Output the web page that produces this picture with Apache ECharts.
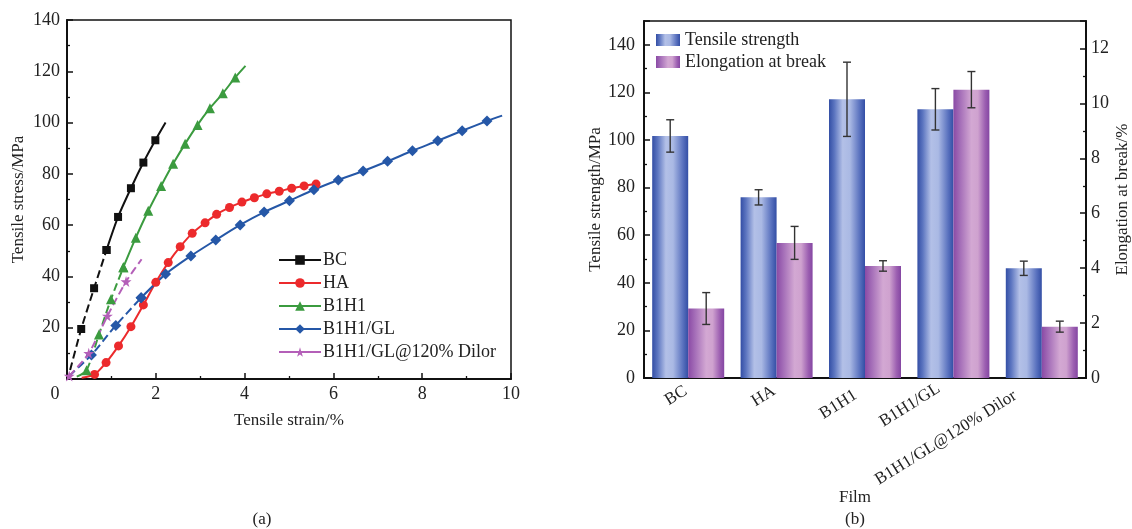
<!DOCTYPE html>
<html>
<head>
<meta charset="utf-8">
<script src="https://cdn.jsdelivr.net/npm/echarts@6/dist/echarts.min.js"></script>
<style>html,body{margin:0;padding:0;background:#fff;}#c{width:1132px;height:529px;}</style>
</head>
<body>
<div id="c"></div>
<script>
// ---- Data: panel (a) stress-strain curves ----
const bcX = [0.07, 0.32, 0.61, 0.89, 1.15, 1.44, 1.72, 1.99, 2.22];
const bcY = [3.5, 19.5, 35.4, 50.3, 63.2, 74.4, 84.4, 93.1, 100];
const haX = [0.33, 0.62, 0.88, 1.16, 1.44, 1.72, 2.0, 2.28, 2.55, 2.82, 3.11, 3.37, 3.66, 3.94, 4.22, 4.5, 4.78, 5.06, 5.34, 5.61];
const haY = [0.5, 1.8, 6.4, 12.9, 20.4, 28.9, 37.7, 45.4, 51.6, 56.8, 60.9, 64.2, 66.9, 69.0, 70.7, 72.2, 73.2, 74.4, 75.3, 76.0];
const b1X = [0.22, 0.44, 0.72, 0.99, 1.27, 1.55, 1.83, 2.12, 2.39, 2.66, 2.94, 3.22, 3.51, 3.79, 4.02];
const b1Y = [0.9, 3.4, 17.4, 31.1, 43.6, 55.1, 65.6, 75.3, 83.9, 91.7, 99.1, 105.6, 111.4, 117.6, 122.1];
const glX = [0.05, 0.55, 1.1, 1.67, 2.22, 2.79, 3.35, 3.9, 4.44, 5.01, 5.56, 6.11, 6.67, 7.22, 7.78, 8.35, 8.9, 9.46, 9.8];
const glY = [1.2, 9.4, 20.9, 31.7, 40.9, 48.0, 54.2, 60.1, 65.1, 69.5, 73.8, 77.6, 81.1, 84.9, 89.0, 92.9, 96.8, 100.6, 102.7];
const diX = [0.05, 0.49, 0.91, 1.33, 1.68];
const diY = [1.2, 10.0, 24.6, 38.0, 46.7];
const strainTicks = [0, 2, 4, 6, 8, 10];
const stressTicks = [20, 40, 60, 80, 100, 120, 140];

// ---- Data: panel (b) bars ----
const films = ['BC', 'HA', 'B1H1', 'B1H1/GL', 'B1H1/GL@120% Dilor'];
const tensileStrength = [101.7, 75.9, 117.1, 112.9, 46.1];
const tensileErr = [6.8, 3.2, 15.6, 8.7, 3.0];
const elongation = [2.53, 4.92, 4.08, 10.5, 1.87];
const elongationErr = [0.58, 0.6, 0.19, 0.66, 0.2];

const FONT = 'Liberation Serif';
const TXT = '#222';

function pts(xs, ys, noFirst, noLast) {
  return xs.map((x, i) => {
    const item = { value: [x, ys[i]] };
    if ((noFirst && i === 0) || (noLast && i === xs.length - 1)) item.symbol = 'none';
    return item;
  });
}
const STAR = 'path://M50,0 L61,35 L98,35 L68,57 L79,91 L50,70 L21,91 L32,57 L2,35 L39,35 Z';

function curve(name, color, symbol, size, data, splitIdx) {
  const base = {
    type: 'line', name, xAxisIndex: 0, yAxisIndex: 0, symbol, symbolSize: size,
    smooth: 0.25, itemStyle: { color }, z: 3
  };
  const out = [];
  if (splitIdx > 0) {
    out.push(Object.assign({}, base, {
      data: data.slice(0, splitIdx + 1),
      lineStyle: { color, width: 2, type: [8, 4] }
    }));
  }
  if (splitIdx < data.length - 1) {
    out.push(Object.assign({}, base, {
      data: data.slice(Math.max(splitIdx, 0)),
      lineStyle: { color, width: 2, type: 'solid' }
    }));
  }
  return out;
}

const series = [].concat(
  curve('BC', '#111111', 'rect', 8, pts(bcX, bcY, true, true), 3),
  curve('HA', '#ec2a2c', 'circle', 9, pts(haX, haY, true, false), 0),
  curve('B1H1', '#3b9b3f', 'triangle', 10, pts(b1X, b1Y, true, true), 4),
  curve('B1H1/GL', '#2557a7', 'diamond', 11, pts(glX, glY, true, true), 3),
  curve('B1H1/GL@120% Dilor', '#b45fb8', STAR, 11, pts(diX, diY, false, true), diX.length - 1)
);

const blueGrad = { type: 'linear', x: 0, y: 0, x2: 1, y2: 0, colorStops: [
  { offset: 0, color: '#334ea5' }, { offset: 0.15, color: '#5c75c0' }, { offset: 0.38, color: '#b3c0e7' },
  { offset: 0.58, color: '#aab9e4' }, { offset: 0.85, color: '#5a72bf' }, { offset: 1, color: '#334ea5' } ] };
const purpleGrad = { type: 'linear', x: 0, y: 0, x2: 1, y2: 0, colorStops: [
  { offset: 0, color: '#8a4aa5' }, { offset: 0.2, color: '#a670b9' }, { offset: 0.5, color: '#d3a8d3' },
  { offset: 0.68, color: '#cfa2cf' }, { offset: 0.88, color: '#9c5fb1' }, { offset: 1, color: '#8446a2' } ] };

series.push({
  type: 'bar', name: 'Tensile strength', xAxisIndex: 1, yAxisIndex: 1,
  data: tensileStrength, barWidth: 36, barGap: '0%', itemStyle: { color: blueGrad }, z: 2
});
series.push({
  type: 'bar', name: 'Elongation at break', xAxisIndex: 1, yAxisIndex: 2,
  data: elongation, barWidth: 36, barGap: '0%', itemStyle: { color: purpleGrad }, z: 2
});

function errSeries(vals, errs, yIdx, dx) {
  return {
    type: 'custom', xAxisIndex: 1, yAxisIndex: yIdx, z: 5, silent: true,
    data: vals.map((v, i) => [i, v, errs[i]]),
    renderItem: function (params, api) {
      const i = api.value(0), v = api.value(1), e = api.value(2);
      const hi = api.coord([i, v + e]);
      const lo = api.coord([i, v - e]);
      const x = hi[0] + dx;
      const st = { stroke: '#333', lineWidth: 1.4 };
      return { type: 'group', children: [
        { type: 'line', shape: { x1: x, y1: hi[1], x2: x, y2: lo[1] }, style: st },
        { type: 'line', shape: { x1: x - 4, y1: hi[1], x2: x + 4, y2: hi[1] }, style: st },
        { type: 'line', shape: { x1: x - 4, y1: lo[1], x2: x + 4, y2: lo[1] }, style: st }
      ] };
    }
  };
}
series.push(errSeries(tensileStrength, tensileErr, 1, -18));
series.push(errSeries(elongation, elongationErr, 2, 18));

// styling: per-label offsets to place rotated category labels as in the figure
const labelPad = [3, 3, 11, 12, 26];
const labelVAlign = ['middle', 'middle', 'middle', 'bottom', 'bottom'];
const filmLabels = films.map((f, i) => ({ value: f,
  textStyle: { padding: [0, labelPad[i], 0, 0], verticalAlign: labelVAlign[i] } }));

const axLine = { show: true, lineStyle: { color: '#111', width: 2 } };
const axTick = { show: true, inside: true, length: 6, lineStyle: { color: '#111', width: 1.5 } };
const minTick = { show: true, splitNumber: 2, length: 3, lineStyle: { color: '#111', width: 1.3 } };
const lbl = { color: TXT, fontFamily: FONT, fontSize: 18 };
const nameStyle = { color: TXT, fontFamily: FONT, fontSize: 17 };

const option = {
  animation: false,
  backgroundColor: '#fff',
  textStyle: { fontFamily: FONT },
  grid: [
    { left: 67, top: 20, width: 444, height: 359, show: true, borderColor: '#111', borderWidth: 1.5, backgroundColor: 'transparent' },
    { left: 644, top: 21, width: 444, height: 357, show: true, borderColor: '#111', borderWidth: 1.5, backgroundColor: 'transparent' }
  ],
  xAxis: [
    { type: 'value', gridIndex: 0, min: strainTicks[0], max: strainTicks[strainTicks.length - 1], interval: 2,
      axisLine: axLine, axisTick: axTick, minorTick: minTick, splitLine: { show: false },
      axisLabel: Object.assign({}, lbl, { margin: 6,
        formatter: v => v === 0 ? '{z|0}' : (strainTicks.indexOf(v) >= 0 ? String(v) : ''),
        rich: { z: { padding: [0, 24, 0, 0], fontFamily: FONT, fontSize: 18, color: TXT } } }),
      name: 'Tensile strain/%', nameLocation: 'middle', nameGap: 33, nameTextStyle: nameStyle },
    { type: 'category', gridIndex: 1, data: filmLabels,
      axisLine: axLine, axisTick: { show: false }, splitLine: { show: false },
      axisLabel: Object.assign({}, lbl, { fontSize: 17, rotate: 32, margin: 10, interval: 0 }) }
  ],
  yAxis: [
    { type: 'value', gridIndex: 0, min: 0, max: stressTicks[stressTicks.length - 1], interval: 20,
      axisLine: axLine, axisTick: axTick, minorTick: minTick, splitLine: { show: false },
      axisLabel: Object.assign({}, lbl, { margin: 7, formatter: v => stressTicks.indexOf(v) >= 0 ? String(v) : '' }),
      name: 'Tensile stress/MPa', nameLocation: 'middle', nameGap: 40, nameTextStyle: nameStyle },
    { type: 'value', gridIndex: 1, position: 'left', min: 0, max: 150, interval: 20,
      axisLine: axLine, axisTick: axTick, minorTick: minTick, splitLine: { show: false },
      axisLabel: Object.assign({}, lbl, { margin: 9, formatter: v => (v % 20 === 0 && v <= 140) ? String(v) : '' }),
      name: 'Tensile strength/MPa', nameLocation: 'middle', nameGap: 38, nameTextStyle: nameStyle },
    { type: 'value', gridIndex: 1, position: 'right', min: 0, max: 13, interval: 2,
      axisLine: axLine, axisTick: axTick, minorTick: minTick, splitLine: { show: false },
      axisLabel: Object.assign({}, lbl, { margin: 5, formatter: v => (v % 2 === 0 && v <= 12) ? String(v) : '' }),
      name: 'Elongation at break/%', nameLocation: 'middle', nameGap: 28, nameTextStyle: nameStyle }
  ],
  legend: [
    { data: ['BC', 'HA', 'B1H1', 'B1H1/GL', 'B1H1/GL@120% Dilor'], orient: 'vertical', left: 273, top: 246,
      itemWidth: 42, itemHeight: 12, itemGap: 5, lineStyle: { type: 'solid' },
      textStyle: { color: TXT, fontFamily: FONT, fontSize: 18, lineHeight: 18, padding: [0, 0, 0, -3] } },
    { data: ['Tensile strength', 'Elongation at break'], orient: 'vertical', left: 651, top: 26,
      itemWidth: 24, itemHeight: 12, itemGap: 4, icon: 'rect',
      textStyle: { color: TXT, fontFamily: FONT, fontSize: 18, lineHeight: 14 } }
  ],
  graphic: [
    { type: 'text', x: 855, y: 498, style: { text: 'Film', font: '17px "Liberation Serif"', fill: TXT, align: 'center', verticalAlign: 'middle' } },
    { type: 'text', x: 262, y: 520, style: { text: '(a)', font: '17px "Liberation Serif"', fill: TXT, align: 'center', verticalAlign: 'middle' } },
    { type: 'text', x: 855, y: 520, style: { text: '(b)', font: '17px "Liberation Serif"', fill: TXT, align: 'center', verticalAlign: 'middle' } }
  ],
  series
};

const chart = echarts.init(document.getElementById('c'), null, { renderer: 'canvas' });
chart.setOption(option);
</script>
</body>
</html>
